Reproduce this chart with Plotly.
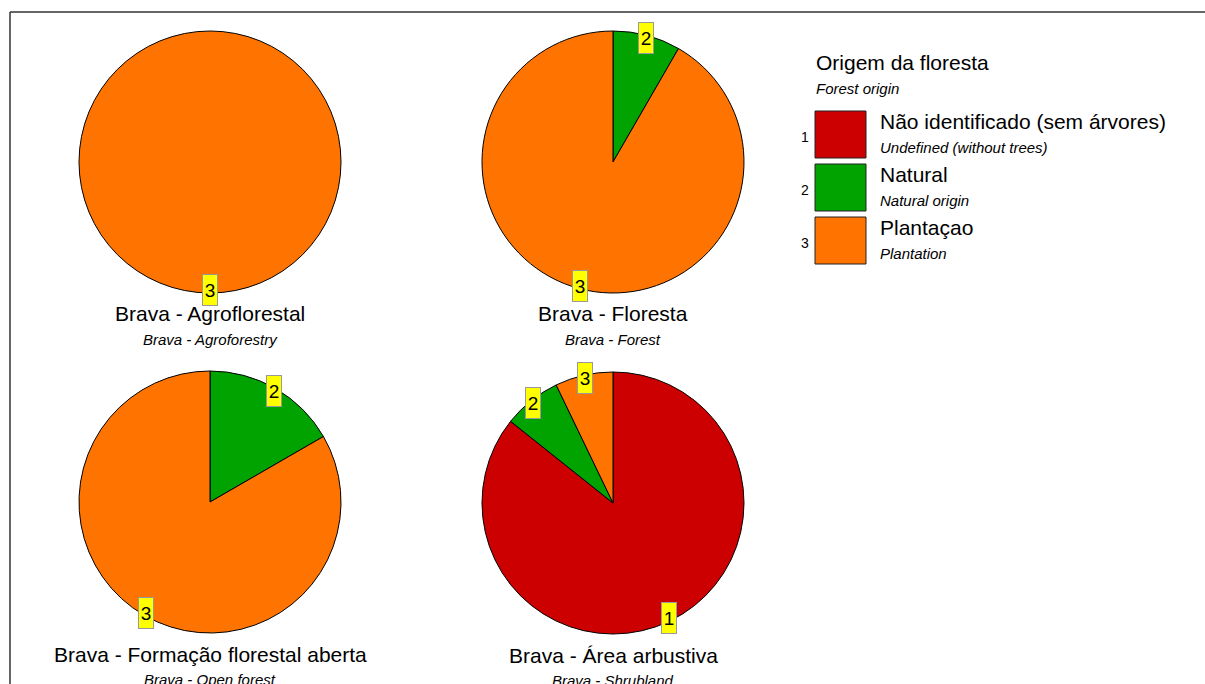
import math
import plotly.graph_objects as go

W, H = 1205, 684

# ---- data ----
codes = ["1", "2", "3"]
cat_pt = ["Não identificado (sem árvores)", "Natural", "Plantaçao"]
cat_en = ["Undefined (without trees)", "Natural origin", "Plantation"]
colors = ["#CC0000", "#00A300", "#FF7300"]

pie_titles_pt = ["Brava - Agroflorestal", "Brava - Floresta",
                 "Brava - Formação florestal aberta", "Brava - Área arbustiva"]
pie_titles_en = ["Brava - Agroforestry", "Brava - Forest",
                 "Brava - Open forest", "Brava - Shrubland"]
# counts per category [1, 2, 3]
v_agro = [0, 0, 1]
v_floresta = [0, 1, 11]
v_aberta = [0, 1, 5]
v_arbustiva = [12, 1, 1]
pie_values = [v_agro, v_floresta, v_aberta, v_arbustiva]

legend_title_pt = "Origem da floresta"
legend_title_en = "Forest origin"

# ---- layout geometry (pixels) ----
centers = [(210, 162), (613, 162), (210, 502), (613, 503)]
R = 131
FONT = "Liberation Sans, Arial, sans-serif"


def px(x):
    return x / W


def py(y):
    return 1 - y / H


fig = go.Figure()
annotations = []
shapes = []

for i, vals in enumerate(pie_values):
    cx, cy = centers[i]
    idx = [k for k, v in enumerate(vals) if v > 0]
    fig.add_trace(go.Pie(
        labels=[codes[k] for k in idx],
        values=[vals[k] for k in idx],
        marker=dict(colors=[colors[k] for k in idx], line=dict(color="black", width=1)),
        sort=False, direction="clockwise", rotation=0,
        textinfo="none", hoverinfo="label+value+percent",
        showlegend=False,
        domain=dict(x=[px(cx - R), px(cx + R)], y=[py(cy + R), py(cy - R)]),
    ))
    total = sum(vals)
    cum = 0
    for k in idx:
        mid = (cum + vals[k] / 2) / total * 2 * math.pi
        cum += vals[k]
        rr = R - 3
        lx = cx + rr * math.sin(mid)
        ly = cy - rr * math.cos(mid)
        annotations.append(dict(
            x=px(lx), y=py(ly), xref="paper", yref="paper",
            text=codes[k], showarrow=False,
            font=dict(family=FONT, size=19, color="black"),
            bgcolor="#FFFF00", bordercolor="#999999", borderwidth=1,
            borderpad=0, width=14, height=30,
            xanchor="center", yanchor="middle",
        ))
    # titles
    ty = cy + R + 21
    annotations.append(dict(
        x=px(cx), y=py(ty), xref="paper", yref="paper",
        text=pie_titles_pt[i], showarrow=False,
        font=dict(family=FONT, size=21, color="black"),
        xanchor="center", yanchor="middle",
    ))
    annotations.append(dict(
        x=px(cx), y=py(ty + 25), xref="paper", yref="paper",
        text="<i>" + pie_titles_en[i] + "</i>", showarrow=False,
        font=dict(family=FONT, size=15, color="black"),
        xanchor="center", yanchor="middle",
    ))

# ---- custom legend ----
annotations.append(dict(
    x=px(814), y=py(63), xref="paper", yref="paper",
    text=legend_title_pt, showarrow=False,
    font=dict(family=FONT, size=21, color="black"),
    xanchor="left", yanchor="middle",
))
annotations.append(dict(
    x=px(814), y=py(88), xref="paper", yref="paper",
    text="<i>" + legend_title_en + "</i>", showarrow=False,
    font=dict(family=FONT, size=15, color="black"),
    xanchor="left", yanchor="middle",
))
for k in range(len(codes)):
    top = 111 + k * 53
    shapes.append(dict(
        type="rect", xref="paper", yref="paper",
        x0=px(815), x1=px(866), y0=py(top + 47), y1=py(top),
        fillcolor=colors[k], line=dict(color="#222222", width=1),
    ))
    annotations.append(dict(
        x=px(811), y=py(top + 26), xref="paper", yref="paper",
        text=codes[k], showarrow=False,
        font=dict(family=FONT, size=14, color="black"),
        xanchor="right", yanchor="middle",
    ))
    annotations.append(dict(
        x=px(878), y=py(top + 11), xref="paper", yref="paper",
        text=cat_pt[k], showarrow=False,
        font=dict(family=FONT, size=21, color="black"),
        xanchor="left", yanchor="middle",
    ))
    annotations.append(dict(
        x=px(878), y=py(top + 36), xref="paper", yref="paper",
        text="<i>" + cat_en[k] + "</i>", showarrow=False,
        font=dict(family=FONT, size=15, color="black"),
        xanchor="left", yanchor="middle",
    ))

# ---- frame (top and left edges) ----
shapes.append(dict(type="line", xref="paper", yref="paper",
                   x0=px(10), x1=px(W + 5), y0=py(12), y1=py(12),
                   line=dict(color="#333333", width=1.5)))
shapes.append(dict(type="line", xref="paper", yref="paper",
                   x0=px(10), x1=px(10), y0=py(12), y1=py(H + 5),
                   line=dict(color="#333333", width=1.5)))

fig.update_layout(
    width=W, height=H,
    margin=dict(l=0, r=0, t=0, b=0),
    paper_bgcolor="white", plot_bgcolor="white",
    annotations=annotations, shapes=shapes,
    showlegend=False,
)

fig.write_html(
    "out.html",
    config={"displayModeBar": False},
    post_script="document.body.style.margin='0px';document.body.style.overflow='hidden';",
)
